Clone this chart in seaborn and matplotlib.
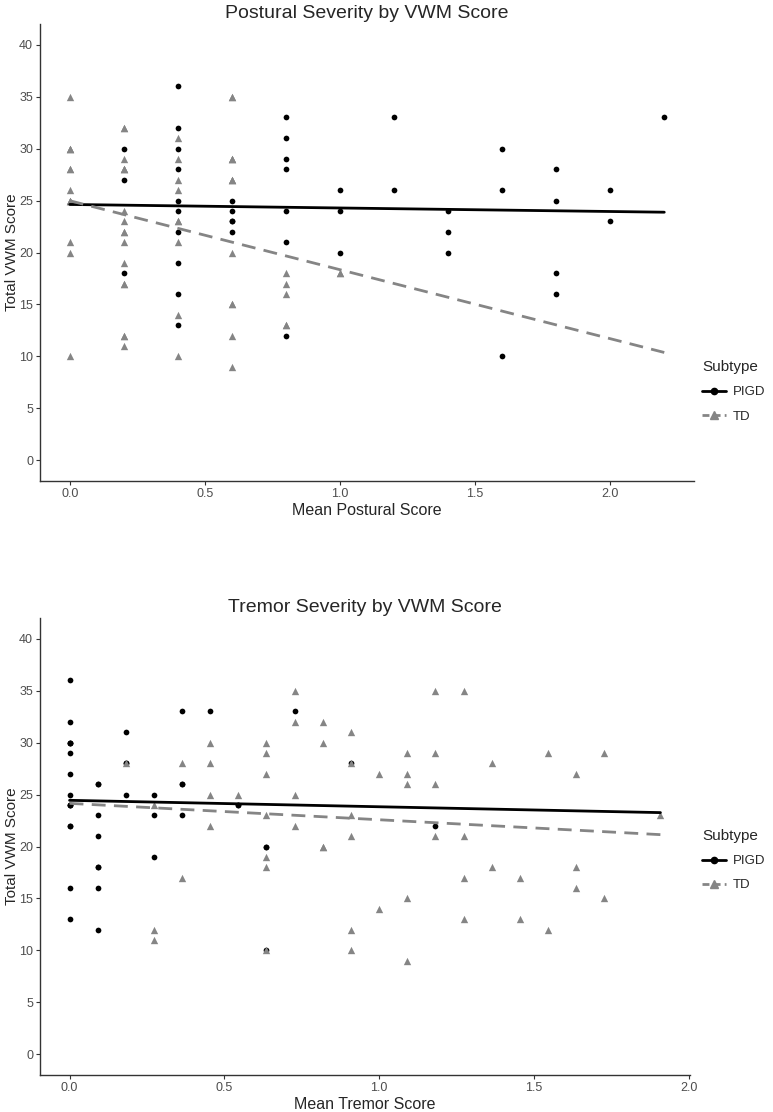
import matplotlib

matplotlib.use('Agg')

import matplotlib.pyplot as plt
from matplotlib.lines import Line2D
import seaborn as sns
import pandas as pd

# 样式
sns.set_theme(style="ticks")
plt.rcParams['font.family'] = ['Liberation Sans', 'DejaVu Sans']

# ---- Postural (top) ----
post_pigd_x = [0.2, 0.2, 0.2,
               0.4, 0.4, 0.4, 0.4, 0.4, 0.4, 0.4, 0.4, 0.4, 0.4,
               0.6, 0.6, 0.6, 0.6, 0.6,
               0.8, 0.8, 0.8, 0.8, 0.8, 0.8, 0.8,
               1.0, 1.0, 1.0,
               1.2, 1.2,
               1.4, 1.4, 1.4,
               1.6, 1.6, 1.6,
               1.8, 1.8, 1.8, 1.8,
               2.0, 2.0,
               2.2]
post_pigd_y = [30, 27, 18,
               36, 32, 30, 28, 25, 24, 22, 19, 16, 13,
               25, 24, 23, 23, 22,
               33, 31, 29, 28, 24, 21, 12,
               26, 24, 20,
               33, 26,
               24, 22, 20,
               30, 26, 10,
               28, 25, 18, 16,
               26, 23,
               33]
post_td_x = [0.0, 0.0, 0.0, 0.0, 0.0, 0.0, 0.0, 0.0, 0.0, 0.0, 0.0, 0.0, 0.0,
             0.2, 0.2, 0.2, 0.2, 0.2, 0.2, 0.2, 0.2, 0.2, 0.2, 0.2, 0.2, 0.2, 0.2, 0.2, 0.2, 0.2,
             0.4, 0.4, 0.4, 0.4, 0.4, 0.4, 0.4, 0.4, 0.4,
             0.6, 0.6, 0.6, 0.6, 0.6, 0.6, 0.6, 0.6, 0.6, 0.6, 0.6, 0.6, 0.6,
             0.8, 0.8, 0.8, 0.8, 0.8,
             1.0, 1.0]
post_td_y = [35, 30, 30, 30, 28, 28, 26, 25, 25, 25, 21, 20, 10,
             32, 32, 29, 28, 28, 28, 24, 23, 22, 22, 21, 19, 17, 17, 12, 12, 11,
             31, 29, 27, 26, 23, 23, 21, 14, 10,
             35, 35, 29, 29, 29, 27, 27, 27, 20, 15, 15, 12, 9,
             18, 17, 16, 13, 13,
             18, 18]

# ---- Tremor (bottom) ----
trem_pigd_x = [0.0, 0.0, 0.0, 0.0, 0.0, 0.0, 0.0, 0.0, 0.0, 0.0, 0.0, 0.0, 0.0, 0.0, 0.0,
               0.091, 0.091, 0.091, 0.091, 0.091, 0.091, 0.091, 0.091,
               0.182, 0.182, 0.182, 0.182,
               0.273, 0.273, 0.273,
               0.364, 0.364, 0.364, 0.364,
               0.455,
               0.545, 0.545,
               0.636, 0.636, 0.636,
               0.727, 0.909, 1.182]
trem_pigd_y = [36, 32, 30, 30, 30, 29, 27, 25, 24, 24, 24, 22, 22, 16, 13,
               26, 26, 23, 21, 18, 18, 16, 12,
               31, 28, 28, 25,
               25, 23, 19,
               33, 26, 26, 23,
               33,
               24, 24,
               20, 20, 10,
               33, 28, 22]
trem_td_x = [0.182,
             0.273, 0.273, 0.273,
             0.364, 0.364,
             0.455, 0.455, 0.455, 0.455,
             0.545,
             0.636, 0.636, 0.636, 0.636, 0.636, 0.636, 0.636,
             0.727, 0.727, 0.727, 0.727,
             0.818, 0.818, 0.818, 0.818,
             0.909, 0.909, 0.909, 0.909, 0.909, 0.909,
             1.0, 1.0,
             1.091, 1.091, 1.091, 1.091, 1.091,
             1.182, 1.182, 1.182, 1.182,
             1.273, 1.273, 1.273, 1.273,
             1.364, 1.364,
             1.455, 1.455,
             1.545, 1.545,
             1.636, 1.636, 1.636,
             1.727, 1.727,
             1.909]
trem_td_y = [28,
             24, 12, 11,
             28, 17,
             30, 28, 25, 22,
             25,
             30, 29, 27, 23, 19, 18, 10,
             35, 32, 25, 22,
             32, 30, 20, 20,
             31, 28, 23, 21, 12, 10,
             27, 14,
             29, 27, 26, 15, 9,
             35, 29, 26, 21,
             35, 21, 17, 13,
             28, 18,
             17, 13,
             29, 12,
             27, 18, 16,
             29, 15,
             23]

y_ticks = [0, 5, 10, 15, 20, 25, 30, 35, 40]
x_ticks = [0.0, 0.5, 1.0, 1.5, 2.0]
x_tick_labels = ["0.0", "0.5", "1.0", "1.5", "2.0"]

PIGD_COL = "black"
TD_COL = "#858585"
DASH = (0, (5, 3))


def draw_panel(ax, px, py, tx, ty, title, xlabel):
    df_p = pd.DataFrame({'x': px, 'y': py})
    df_t = pd.DataFrame({'x': tx, 'y': ty})
    x_min = min(px + tx)
    x_max = max(px + tx)

    # 散点
    sns.scatterplot(data=df_p, x='x', y='y', color=PIGD_COL, marker='o', s=17,
                    linewidth=0, ax=ax, legend=False, zorder=2)
    sns.scatterplot(data=df_t, x='x', y='y', color=TD_COL, marker='^', s=28,
                    linewidth=0, ax=ax, legend=False, zorder=3)

    # 回归线 (延伸到全部数据范围)
    ax.set_xlim(x_min, x_max)
    sns.regplot(data=df_p, x='x', y='y', scatter=False, ci=None, truncate=False,
                color=PIGD_COL, line_kws={'lw': 2.0, 'zorder': 4}, ax=ax)
    sns.regplot(data=df_t, x='x', y='y', scatter=False, ci=None, truncate=False,
                color=TD_COL, line_kws={'lw': 2.0, 'ls': DASH, 'zorder': 4}, ax=ax)

    pad = (x_max - x_min) * 0.05
    ax.set_xlim(x_min - pad, x_max + pad)
    ax.set_ylim(-2, 42)
    ax.set_xticks(x_ticks)
    ax.set_xticklabels(x_tick_labels)
    ax.set_yticks(y_ticks)
    ax.set_yticklabels([str(v) for v in y_ticks])

    ax.set_title(title, fontsize=14, pad=4)
    ax.set_xlabel(xlabel, fontsize=11.5, labelpad=2)
    ax.set_ylabel("Total VWM Score", fontsize=11, labelpad=0)
    ax.tick_params(axis='both', labelsize=9, colors='#333333', labelcolor='#4D4D4D',
                   length=3, width=0.8, pad=2)
    sns.despine(ax=ax)
    for sp in ['left', 'bottom']:
        ax.spines[sp].set_color('#333333')
        ax.spines[sp].set_linewidth(1.0)


fig = plt.figure(figsize=(7.73, 11.12), dpi=100)
ax1 = fig.add_axes([40 / 773, 1 - 481 / 1112, 654 / 773, 457 / 1112])
ax2 = fig.add_axes([40 / 773, 1 - 1075 / 1112, 650 / 773, 457 / 1112])

draw_panel(ax1, post_pigd_x, post_pigd_y, post_td_x, post_td_y,
           "Postural Severity by VWM Score", "Mean Postural Score")
draw_panel(ax2, trem_pigd_x, trem_pigd_y, trem_td_x, trem_td_y,
           "Tremor Severity by VWM Score", "Mean Tremor Score")

# 图例
handles = [Line2D([0], [0], color=PIGD_COL, lw=2.0, marker='o', markersize=4.5),
           Line2D([0], [0], color=TD_COL, lw=2.0, ls=(0, (2.5, 1.5)), marker='^', markersize=5.5)]
for y_top in [1 - 355 / 1112, 1 - 824 / 1112]:
    leg = fig.legend(handles, ["PIGD", "TD"], title="Subtype", loc='upper left',
                     bbox_to_anchor=(697 / 773, y_top), frameon=False, fontsize=9.5,
                     title_fontsize=11, handlelength=1.8, handletextpad=0.5,
                     borderaxespad=0, labelspacing=0.9)
    leg._legend_box.align = "left"

fig.savefig("out.png", dpi=100)
